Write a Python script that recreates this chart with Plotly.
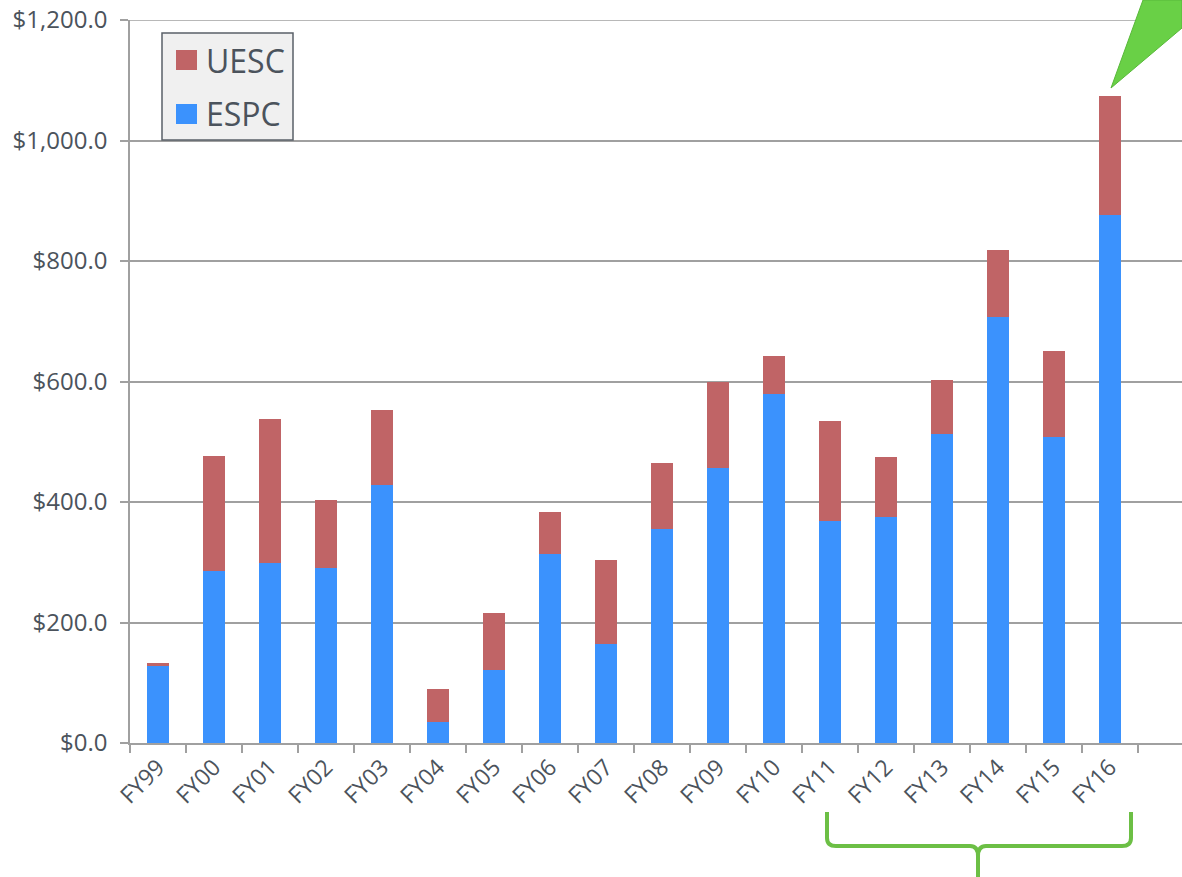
import plotly.graph_objects as go

# Data ($ millions)
years = ['FY99', 'FY00', 'FY01', 'FY02', 'FY03', 'FY04', 'FY05', 'FY06', 'FY07',
         'FY08', 'FY09', 'FY10', 'FY11', 'FY12', 'FY13', 'FY14', 'FY15', 'FY16']
espc = [128, 286, 298, 291, 428, 35, 122, 314, 165, 356, 457, 579, 368, 375, 513, 707, 508, 876]
uesc = [4, 191, 239, 113, 124, 54, 93, 70, 139, 109, 142, 64, 166, 99, 90, 112, 142, 198]

RED = '#c06466'
BLUE = '#3b92fd'
GREEN = '#6cbf45'
TEXT = '#4b535c'
GRID = '#a0a0a0'
FONT = 'Open Sans, Lato, sans-serif'

W, H = 1182, 877
L, R, T, B = 130, 0, 20, 134


def px(x, y):
    """Convert screen pixels to paper coordinates."""
    return (x - L) / (W - L - R), (H - B - y) / (H - T - B)


fig = go.Figure()

fig.add_trace(go.Bar(x=years, y=espc, name='ESPC', marker_color=BLUE,
                     marker_line_width=0, width=0.4, showlegend=False))
fig.add_trace(go.Bar(x=years, y=uesc, name='UESC', marker_color=RED,
                     marker_line_width=0, width=0.4, showlegend=False))

shapes = []

# top gridline (plotly drops the one sitting on the range edge)
shapes.append(dict(type='line', xref='paper', yref='y', x0=0, x1=1, y0=1200, y1=1200,
                   line=dict(color=GRID, width=1.5), layer='below'))

# Legend box
x0, y0 = px(162, 140)
x1, y1 = px(293, 33)
shapes.append(dict(type='rect', xref='paper', yref='paper', x0=x0, y0=y0, x1=x1, y1=y1,
                   fillcolor='#f0f0f0', line=dict(color='#5a6068', width=1.5), layer='above'))
annotations = []
for name, color, cy in [('UESC', RED, 60), ('ESPC', BLUE, 114)]:
    sx0, sy0 = px(176, cy + 10)
    sx1, sy1 = px(197, cy - 10)
    shapes.append(dict(type='rect', xref='paper', yref='paper', x0=sx0, y0=sy0, x1=sx1, y1=sy1,
                       fillcolor=color, line_width=0, layer='above'))
    tx, ty = px(204, cy)
    annotations.append(dict(text=name, xref='paper', yref='paper', x=tx, y=ty,
                            xanchor='left', yanchor='middle', showarrow=False,
                            font=dict(family=FONT, size=32, color=TEXT)))

# Green callout pointer at top right
pts = [px(1111, 88), px(1143, 0), px(1182, 0), px(1182, 28)]
path = 'M ' + ' L '.join(f'{a},{b}' for a, b in pts) + ' Z'
shapes.append(dict(type='path', xref='paper', yref='paper', path=path,
                   fillcolor='#69d046', line=dict(color='#58b83a', width=1), layer='above'))


# Green brace under FY11-FY16
def P(x, y):
    a, b = px(x, y)
    return f'{a},{b}'


brace = (f'M {P(827, 812)} L {P(827, 838)} Q {P(827, 846)} {P(836, 846)} '
         f'L {P(970, 846)} Q {P(978, 846)} {P(978, 856)} L {P(978, 880)} '
         f'M {P(978, 856)} Q {P(978, 846)} {P(986, 846)} '
         f'L {P(1122, 846)} Q {P(1131, 846)} {P(1131, 838)} L {P(1131, 812)}')
shapes.append(dict(type='path', xref='paper', yref='paper', path=brace,
                   line=dict(color=GREEN, width=4), layer='above'))

fig.update_layout(
    barmode='stack',
    width=W, height=H,
    margin=dict(l=L, r=R, t=T, b=B, autoexpand=False),
    plot_bgcolor='white',
    paper_bgcolor='white',
    showlegend=False,
    shapes=shapes,
    annotations=annotations,
    font=dict(family=FONT, color=TEXT),
)

fig.update_xaxes(
    range=[-0.5, 18.29],
    tickangle=-45,
    tickson='boundaries',
    ticks='outside', ticklen=8, tickcolor=GRID, tickwidth=1.5,
    showline=True, linecolor=GRID, linewidth=1.5,
    showgrid=False,
    automargin=False,
    tickfont=dict(family=FONT, size=23, color=TEXT),
)

fig.update_yaxes(
    range=[0, 1200],
    dtick=200,
    tickformat='$,.1f',
    ticks='outside', ticklen=8, tickcolor=GRID, tickwidth=1.5,
    showline=True, linecolor=GRID, linewidth=1.5,
    showgrid=True, gridcolor=GRID, gridwidth=1.5,
    zeroline=False,
    automargin=False,
    ticklabeloverflow='allow',
    ticklabelstandoff=8,
    tickfont=dict(family=FONT, size=24, color=TEXT),
)

# drop the default body margin so the figure sits at the page corner
fig.write_html('out.html', config={'displayModeBar': False},
               post_script="document.body.style.margin='0';")
